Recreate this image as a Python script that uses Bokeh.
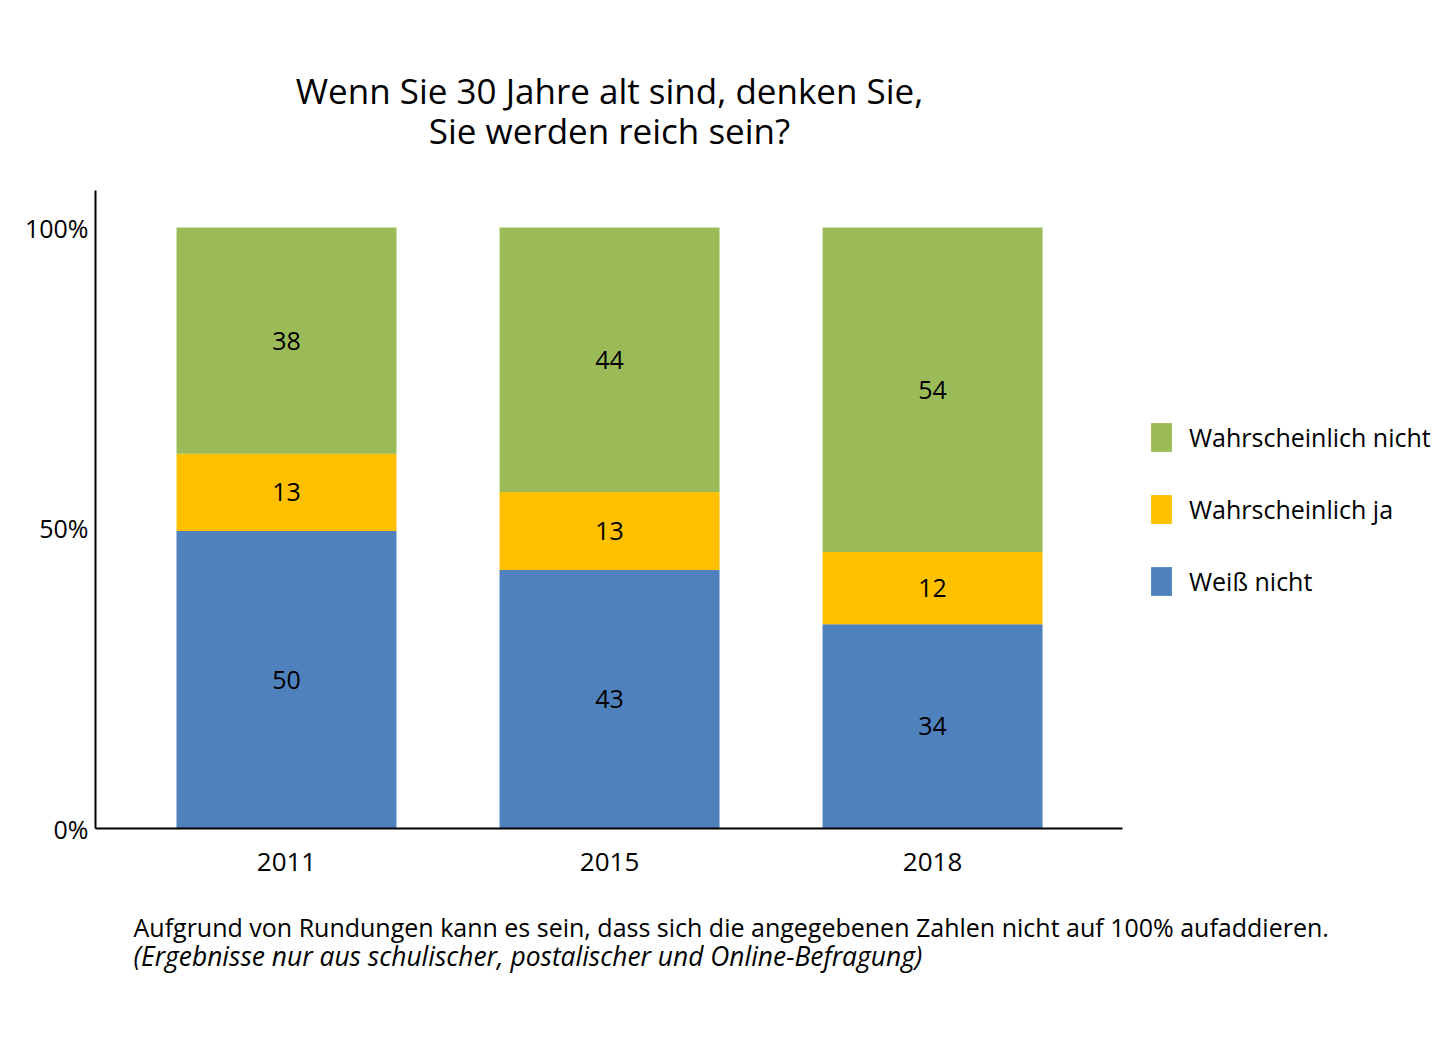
from bokeh.plotting import figure
from bokeh.layouts import column
from bokeh.models import ColumnDataSource, Range1d, FixedTicker, Label, LabelSet, Legend, LegendItem
from bokeh.core.properties import value
from bokeh.embed import file_html
from bokeh.resources import INLINE

years = ["2011", "2015", "2018"]
series = ["Weiß nicht", "Wahrscheinlich ja", "Wahrscheinlich nicht"]
weiss_nicht = [50, 43, 34]
wahrscheinlich_ja = [13, 13, 12]
wahrscheinlich_nicht = [38, 44, 54]
colors = ["#4F81BD", "#FFC000", "#9BBB59"]
y_ticks = [0, 50, 100]
y_tick_labels = ["0%", "50%", "100%"]
title_lines = ["Wenn Sie 30 Jahre alt sind, denken Sie,", "Sie werden reich sein?"]
note_1 = "Aufgrund von Rundungen kann es sein, dass sich die angegebenen Zahlen nicht auf 100% aufaddieren."
note_2 = "(Ergebnisse nur aus schulischer, postalischer und Online-Befragung)"

FONT = "Open Sans"
LEFT = 95      # left border shared by all stacked figures
W = 1433
raw = [weiss_nicht, wahrscheinlich_ja, wahrscheinlich_nicht]
xs = list(range(len(years)))
totals = [sum(v[i] for v in raw) for i in xs]

data = {"x": xs}
keys = ["s0", "s1", "s2"]
for k, vals in zip(keys, raw):
    data[k] = [vals[i] / totals[i] * 100 for i in xs]
source = ColumnDataSource(data)

lx, ly, lt = [], [], []
for i in xs:
    base = 0.0
    for vals in raw:
        h = vals[i] / totals[i] * 100
        lx.append(i)
        ly.append(base + h / 2)
        lt.append(str(vals[i]))
        base += h
lsrc = ColumnDataSource(dict(x=lx, y=ly, t=lt))


def text_fig(height):
    f = figure(frame_width=W - LEFT, frame_height=height, output_backend="svg",
               toolbar_location=None,
               x_range=Range1d(LEFT, W), y_range=Range1d(0, height),
               x_axis_type=None, y_axis_type=None,
               min_border_left=0, min_border_right=0, min_border_top=0, min_border_bottom=0)
    f.outline_line_color = None
    f.title.visible = False
    return f


# ---- title ----
TH = 190
tfig = text_fig(TH)
for txt, ypix in zip(title_lines, (90, 130)):
    tfig.add_layout(Label(x=609, y=TH - ypix, text=txt, text_align="center",
                          text_baseline="middle", text_font=FONT,
                          text_font_size="35px", text_color="#000000"))

# ---- main chart ----
p = figure(frame_width=1027, frame_height=638, output_backend="svg", toolbar_location=None,
           x_range=Range1d(-0.5913, 2.588), y_range=Range1d(0, 106.16),
           min_border_left=LEFT, min_border_right=311, min_border_top=0, min_border_bottom=60)
p.title.visible = False
p.outline_line_color = None
p.xgrid.visible = False
p.ygrid.visible = False

rs = p.vbar_stack(keys, x="x", width=0.681, color=colors, line_color=None, source=source)

p.add_layout(LabelSet(x="x", y="y", text="t", source=lsrc, text_align="center",
                      text_baseline="middle", text_font=value(FONT), text_font_size="25px",
                      text_color="#000000"))

for ax in (p.xaxis[0], p.yaxis[0]):
    ax.axis_line_width = 2
    ax.axis_line_color = "#000000"
    ax.major_tick_line_color = None
    ax.minor_tick_line_color = None
    ax.major_label_text_font = FONT
    ax.major_label_text_font_size = "25px"
    ax.major_label_text_color = "#000000"

p.xaxis.ticker = FixedTicker(ticks=xs)
p.xaxis.major_label_overrides = {i: y for i, y in enumerate(years)}
p.xaxis.major_label_standoff = 18
p.xaxis.major_label_text_font_size = "26px"
p.yaxis.ticker = FixedTicker(ticks=y_ticks)
p.yaxis.major_label_overrides = {t: l for t, l in zip(y_ticks, y_tick_labels)}
p.yaxis.major_label_standoff = 1

items = [LegendItem(label=series[j], renderers=[rs[j]]) for j in (2, 1, 0)]
legend = Legend(items=items, location="left", padding=0, margin=26,
                border_line_color=None, background_fill_alpha=0,
                glyph_width=26, glyph_height=36, spacing=36, label_standoff=15,
                label_text_font=FONT, label_text_font_size="25px", label_text_color="#000000")
p.add_layout(legend, "right")

# ---- footnote ----
NH = 152
NTOP = 888
nfig = text_fig(NH)
nfig.add_layout(Label(x=133, y=NH - (926 - NTOP), text=note_1, text_align="left",
                      text_baseline="middle", text_font=FONT, text_font_size="25px",
                      text_color="#000000"))
nfig.add_layout(Label(x=133, y=NH - (955 - NTOP), text=note_2, text_align="left",
                      text_baseline="middle", text_font=FONT, text_font_size="26.4px",
                      text_font_style="italic", text_color="#000000"))

layout = column(tfig, p, nfig, spacing=0)
open("out.html", "w").write(file_html(layout, INLINE))
